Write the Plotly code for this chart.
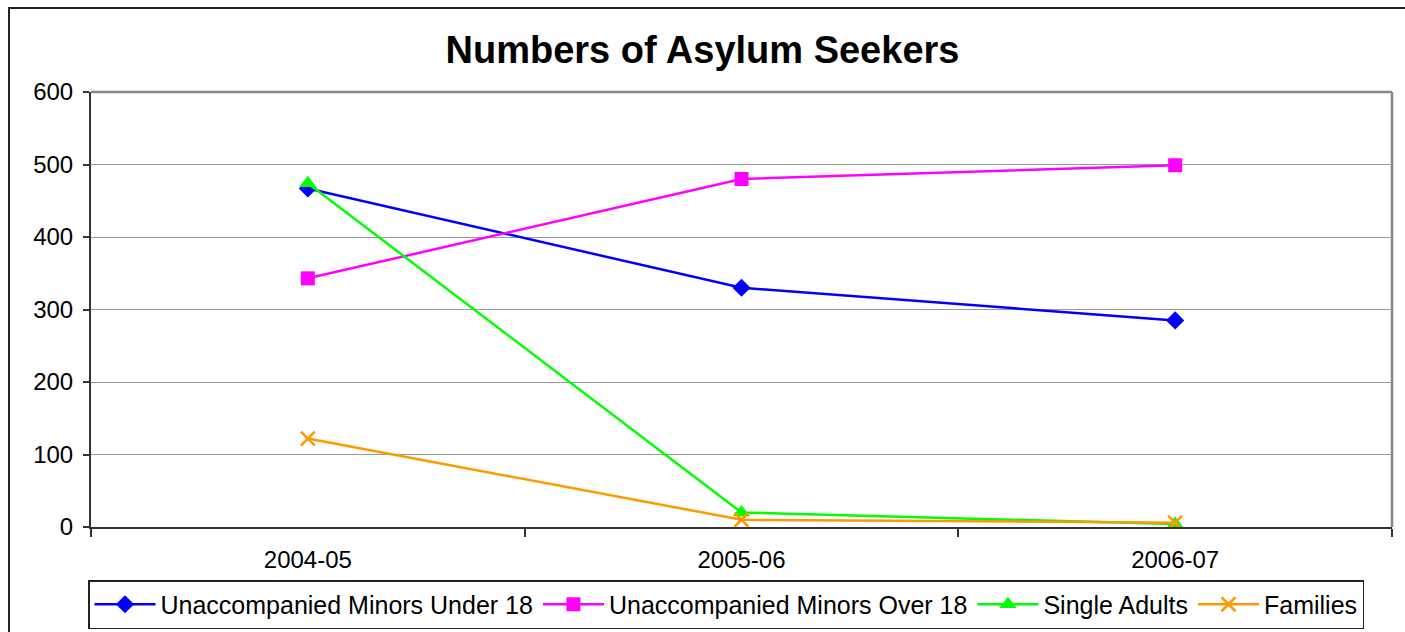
import plotly.graph_objects as go

categories = ["2004-05", "2005-06", "2006-07"]
minors_under_18 = [467, 330, 285]
minors_over_18 = [343, 480, 499]
single_adults = [474, 20, 4]
families = [122, 10, 6]
y_ticks = [0, 100, 200, 300, 400, 500, 600]

fig = go.Figure()
fig.add_trace(go.Scatter(x=categories, y=minors_under_18, name="Unaccompanied Minors Under 18",
                         mode="lines+markers", line=dict(color="#0000FF", width=2.5),
                         marker=dict(symbol="diamond", size=14, color="#0000FF")))
fig.add_trace(go.Scatter(x=categories, y=minors_over_18, name="Unaccompanied Minors Over 18",
                         mode="lines+markers", line=dict(color="#FF00FF", width=2.5),
                         marker=dict(symbol="square", size=14, color="#FF00FF")))
fig.add_trace(go.Scatter(x=categories, y=single_adults, name="Single Adults",
                         mode="lines+markers", line=dict(color="#00FF00", width=2.5),
                         marker=dict(symbol="triangle-up", size=15, color="#00FF00")))
fig.add_trace(go.Scatter(x=categories, y=families, name="Families",
                         mode="lines+markers", line=dict(color="#FF9900", width=2.5),
                         marker=dict(symbol="x-thin-open", size=14, color="#FF9900",
                                     line=dict(color="#FF9900", width=2.5))))

fig.update_layout(
    width=1405, height=632,
    margin=dict(l=91, r=13, t=92, b=105, autoexpand=False),
    paper_bgcolor="white", plot_bgcolor="white",
    font=dict(family="Arial, Liberation Sans, sans-serif", color="black"),
    title=dict(text="<b>Numbers of Asylum Seekers</b>", x=0.5, xref="container", xanchor="center",
               y=1 - 50 / 632, yref="container", yanchor="middle",
               font=dict(size=38, color="black")),
    showlegend=True,
    legend=dict(orientation="h", xref="container", yref="container",
                x=88 / 1405, y=1 - 580 / 632, xanchor="left", yanchor="top",
                bordercolor="#222", borderwidth=1.5, bgcolor="white",
                font=dict(size=25), itemwidth=61, tracegroupgap=0),
)
fig.update_xaxes(type="category", range=[-0.5, 2.5], tickson="boundaries",
                 ticks="outside", ticklen=8, tickcolor="#333", tickwidth=1.5,
                 showline=True, linecolor="#333", linewidth=2, ticklabelstandoff=10,
                 showgrid=False, tickfont=dict(size=24, color="black"), zeroline=False)
fig.update_yaxes(range=[0, 600], tickvals=y_ticks, ticks="outside", ticklen=6,
                 tickcolor="#333", tickwidth=1.5, ticklabelstandoff=5,
                 showline=True, linecolor="#333", linewidth=2,
                 showgrid=True, gridcolor="#999", gridwidth=1,
                 tickfont=dict(size=24, color="black"), zeroline=False)

# plot area top & right border (gray)
fig.add_shape(type="line", xref="paper", yref="paper", x0=0, x1=1, y0=1, y1=1,
              line=dict(color="#888", width=2.5), layer="below")
fig.add_shape(type="line", xref="paper", yref="paper", x0=1, x1=1, y0=0, y1=1,
              line=dict(color="#888", width=2.5), layer="below")
# outer chart border
fig.add_shape(type="rect", xref="paper", yref="paper",
              x0=(9 - 91) / 1301, x1=1.05, y0=(527 - 8) / 435, y1=-0.4,
              line=dict(color="#222", width=2), fillcolor="rgba(0,0,0,0)", layer="above")

fig.write_html("out.html")
